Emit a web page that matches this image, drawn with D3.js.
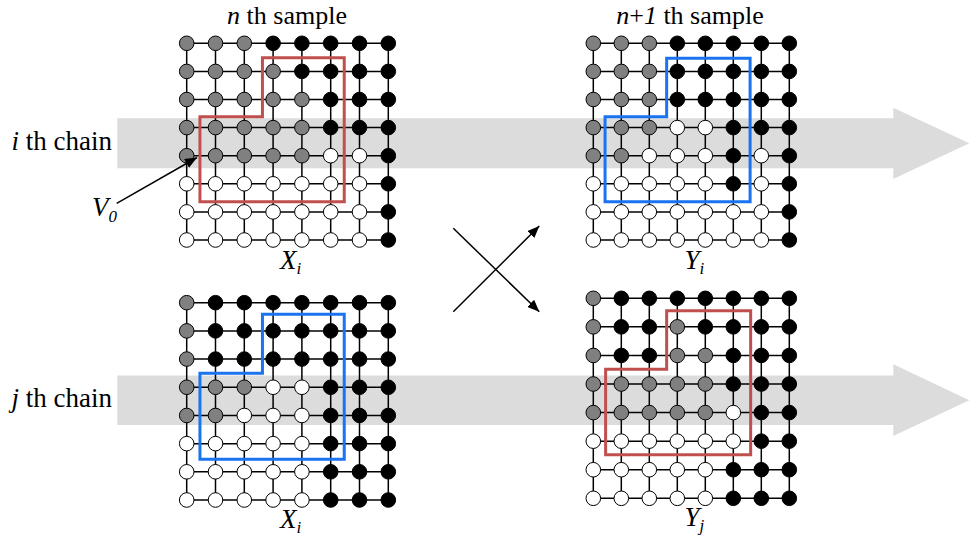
<!DOCTYPE html>
<html>
<head>
<meta charset="utf-8">
<script src="https://cdn.jsdelivr.net/npm/d3@7"></script>
<style>
  body { margin: 0; background: #fff; }
  svg { display: block; }
  text { font-family: "Liberation Serif", "Times New Roman", "DejaVu Serif", serif; }
</style>
</head>
<body>
<svg id="chart"></svg>
<script>
// node states per row: G = gray, B = black, W = white
const topLeftNodes = [
  "GGGBBBBB", "GGGGBBBB", "GGGGGBBB", "GGGGGBBB",
  "GGGGGWWB", "WWWWWWWB", "WWWWWWWB", "WWWWWWWB"
];
const topRightNodes = [
  "GGGBBBBB", "GGGBBBBB", "GGGBBBBB", "GGGWWBBB",
  "GGWWWBWB", "WWWWWBWB", "WWWWWWWB", "WWWWWWWB"
];
const bottomLeftNodes = [
  "GBBBBBBB", "GBBBBBBB", "GBBBBBBB", "GGGWWBBB",
  "GGWWWBBB", "WWWWWBBB", "WWWWWBBB", "WWWWWBBB"
];
const bottomRightNodes = [
  "GBBBBBBB", "GBBGBBBB", "GBBGGBBB", "GGGGGBBB",
  "GGGGGWBB", "WWWWWWBB", "WWWWWBBB", "WWWWWBBB"
];

// L-shaped window, in grid units: [left, stepX, right, top, stepY, bottom]
const topLeftWindow = [0.46, 2.63, 5.47, 0.51, 2.61, 5.64];
const topRightWindow = [0.42, 2.62, 5.6, 0.53, 2.61, 5.64];
const bottomLeftWindow = [0.46, 2.63, 5.47, 0.41, 2.5, 5.55];
const bottomRightWindow = [0.44, 2.62, 5.62, 0.44, 2.48, 5.48];

const chainLabels = ["i", "j"];
const sampleLabels = [["n", ""], ["n", "+", "1"]];

const width = 970, height = 536;
const svg = d3.select("#chart").attr("width", width).attr("height", height);
const serif = "Liberation Serif, Times New Roman, DejaVu Serif, serif";

const fillOf = { G: "#808080", B: "#000", W: "#fff" };

// 箭头
const defs = svg.append("defs");
defs.append("marker")
  .attr("id", "head")
  .attr("viewBox", "0 0 12 10")
  .attr("refX", 12).attr("refY", 5)
  .attr("markerWidth", 12).attr("markerHeight", 10)
  .attr("markerUnits", "userSpaceOnUse")
  .attr("orient", "auto")
  .append("path").attr("d", "M0,0L12,5L0,10Z").attr("fill", "#000");

// 灰色的链箭头（底层）
const bands = [
  { label: chainLabels[0], y0: 118.3, y1: 168.3, h0: 107.7, h1: 179 },
  { label: chainLabels[1], y0: 375.5, y1: 425, h0: 364.3, h1: 436 }
];
bands.forEach(b => {
  const mid = (b.h0 + b.h1) / 2;
  svg.append("path")
    .attr("d", `M117.3,${b.y0}H893.3V${b.h0}L969.3,${mid}L893.3,${b.h1}V${b.y1}H117.3Z`)
    .attr("fill", "#dcdcdc");
  const t = svg.append("text")
    .attr("x", 112).attr("y", (b.y0 + b.y1) / 2 + 7)
    .attr("text-anchor", "end")
    .attr("font-family", serif)
    .attr("font-size", 27);
  t.append("tspan").attr("font-style", "italic").text(b.label);
  t.append("tspan").text(" th chain");
});

const grids = [
  { nodes: topLeftNodes, win: topLeftWindow, color: "#c0504d", xr: [186.7, 388.3], yr: [43.3, 240], lab: ["X", "i"], ly: 269 },
  { nodes: topRightNodes, win: topRightWindow, color: "#1a73f0", xr: [593.3, 789.3], yr: [43.3, 240], lab: ["Y", "i"], ly: 269 },
  { nodes: bottomLeftNodes, win: bottomLeftWindow, color: "#1a73f0", xr: [186.7, 388.3], yr: [302.7, 500], lab: ["X", "i"], ly: 528 },
  { nodes: bottomRightNodes, win: bottomRightWindow, color: "#c0504d", xr: [593.3, 789.3], yr: [298.3, 498.3], lab: ["Y", "j"], ly: 526 }
];

grids.forEach(gd => {
  const x = d3.scaleLinear().domain([0, 7]).range(gd.xr);
  const y = d3.scaleLinear().domain([0, 7]).range(gd.yr);
  const g = svg.append("g");
  const idx = d3.range(8);

  // 网格线
  g.selectAll("line.h").data(idx).join("line")
    .attr("x1", x(0)).attr("x2", x(7))
    .attr("y1", d => y(d)).attr("y2", d => y(d))
    .attr("stroke", "#000").attr("stroke-width", 1.5);
  g.selectAll("line.v").data(idx).join("line")
    .attr("y1", y(0)).attr("y2", y(7))
    .attr("x1", d => x(d)).attr("x2", d => x(d))
    .attr("stroke", "#000").attr("stroke-width", 1.5);

  // 节点
  const cells = gd.nodes.flatMap((row, r) => row.split("").map((s, c) => ({ r, c, s })));
  g.selectAll("circle").data(cells).join("circle")
    .attr("cx", d => x(d.c)).attr("cy", d => y(d.r))
    .attr("r", 7.3)
    .attr("fill", d => fillOf[d.s])
    .attr("stroke", "#000").attr("stroke-width", 1);

  // L 形窗口
  const [l, sx, rr, tp, sy, bt] = gd.win;
  const pts = [[sx, tp], [rr, tp], [rr, bt], [l, bt], [l, sy], [sx, sy]];
  g.append("path")
    .attr("d", d3.line().x(p => x(p[0])).y(p => y(p[1]))(pts) + "Z")
    .attr("fill", "none")
    .attr("stroke", gd.color).attr("stroke-width", 3);

  // 标签
  const t = svg.append("text")
    .attr("x", (gd.xr[0] + gd.xr[1]) / 2 + 3).attr("y", gd.ly)
    .attr("text-anchor", "middle").attr("font-style", "italic")
    .attr("font-family", serif)
    .attr("font-size", 27);
  t.append("tspan").text(gd.lab[0]);
  t.append("tspan").attr("font-size", 17).attr("dy", 5).text(gd.lab[1]);
});

// 标题
[[287, sampleLabels[0]], [690, sampleLabels[1]]].forEach(([cx, parts]) => {
  const t = svg.append("text")
    .attr("x", cx).attr("y", 24)
    .attr("text-anchor", "middle")
    .attr("font-family", serif)
    .attr("font-size", 26);
  t.append("tspan").attr("font-style", "italic").text(parts[0]);
  if (parts.length > 2) {
    t.append("tspan").text(parts[1]);
    t.append("tspan").attr("font-style", "italic").text(parts[2]);
  }
  t.append("tspan").text(" th sample");
});

// V0
const v = svg.append("text")
  .attr("x", 92).attr("y", 216)
  .attr("font-family", serif)
  .attr("font-style", "italic").attr("font-size", 27);
v.append("tspan").text("V");
v.append("tspan").attr("font-size", 17).attr("dy", 6).text("0");

svg.append("line")
  .attr("x1", 116.7).attr("y1", 203.3).attr("x2", 197).attr("y2", 157.5)
  .attr("stroke", "#000").attr("stroke-width", 1.5)
  .attr("marker-end", "url(#head)");

// 交叉箭头
const crossArrows = [
  [[453.3, 228.3], [539.3, 311.7]],
  [[453.3, 311.7], [539.3, 226]]
];
svg.selectAll("line.cross").data(crossArrows).join("line")
  .attr("class", "cross")
  .attr("x1", d => d[0][0]).attr("y1", d => d[0][1])
  .attr("x2", d => d[1][0]).attr("y2", d => d[1][1])
  .attr("stroke", "#000").attr("stroke-width", 1.5)
  .attr("marker-end", "url(#head)");
</script>
</body>
</html>
